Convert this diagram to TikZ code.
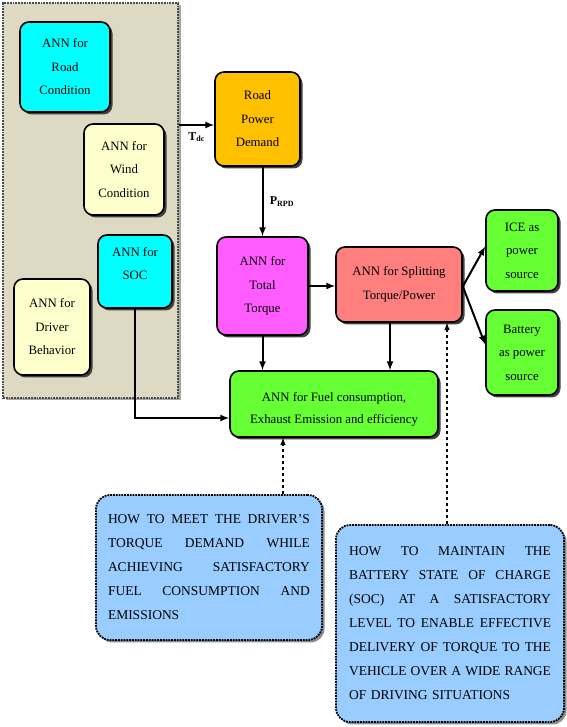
\documentclass[tikz,border=0pt]{standalone}
\usepackage{fontspec}
\setmainfont{Liberation Serif}
\usetikzlibrary{shapes,arrows,positioning,calc,shadows}

\definecolor{panelgray}{HTML}{DDD9C3}
\definecolor{anncyan}{HTML}{00FFFF}
\definecolor{annyellow}{HTML}{FFFFCC}
\definecolor{annorange}{HTML}{FFC000}
\definecolor{annpink}{HTML}{FF5CFF}
\definecolor{annsalmon}{HTML}{FF7F7F}
\definecolor{anngreen}{HTML}{66FF33}
\definecolor{noteblue}{HTML}{99CCFF}

% justified line of a question box
\newcommand{\fullline}[1]{\hbox to 202pt{\spaceskip=3pt plus 1fil\relax #1}}

\begin{document}
\begin{tikzpicture}[
    x=1pt, y=1pt,
    annbox/.style={rectangle, rounded corners=9pt, draw, line width=1.6pt, align=center,
        inner sep=2pt, font=\fontsize{12.8}{23.5}\selectfont,
        drop shadow={shadow xshift=2.5pt, shadow yshift=-2.5pt, fill=black!75, opacity=1}},
    cyanbox/.style={annbox, fill=anncyan},
    yellowbox/.style={annbox, fill=annyellow},
    greenbox/.style={annbox, fill=anngreen},
    notebox/.style={rectangle, rounded corners=14pt, draw, densely dotted, line width=1.8pt,
        fill=noteblue, text width=202pt, inner sep=0pt, align=left,
        font=\fontsize{13.5}{24}\selectfont,
        drop shadow={shadow xshift=2.5pt, shadow yshift=-2.5pt, fill=black!45, opacity=1}},
    arr/.style={-latex, line width=2pt},
    hintarr/.style={-latex, line width=1.5pt, dashed},
    flowlabel/.style={font=\fontsize{12}{14}\selectfont}
]
    \useasboundingbox (0,0) rectangle (566,727);

    % Input panel
    \node[rectangle, draw=black!70, densely dotted, line width=1.8pt, fill=panelgray,
          minimum width=175pt, minimum height=395pt,
          drop shadow={shadow xshift=2.5pt, shadow yshift=-2.5pt, fill=black!35, opacity=1}]
          (panel) at (90.5,526.5) {};

    % Input networks
    \node[cyanbox, minimum width=90pt, minimum height=90pt] (roadann) at (65,660) {ANN for\\Road\\Condition};
    \node[yellowbox, minimum width=80pt, minimum height=91pt] (windann) at (124,557.5) {ANN for\\Wind\\Condition};
    \node[cyanbox, minimum width=74pt, minimum height=73pt, text depth=16pt] (socann) at (135,455.5) {ANN for\\SOC};
    \node[yellowbox, minimum width=76pt, minimum height=96pt] (driverann) at (52,400) {ANN for\\Driver\\Behavior};

    % Main chain
    \node[annbox, fill=annorange, minimum width=85pt, minimum height=94pt] (rpd) at (257.5,608) {Road\\Power\\Demand};
    \node[annbox, fill=annpink, minimum width=91pt, minimum height=98pt] (totalann) at (262.5,441) {ANN for\\Total\\Torque};
    \node[annbox, fill=annsalmon, minimum width=126pt, minimum height=75pt] (splitann) at (399,442.5) {ANN for Splitting\\Torque/Power};
    \node[greenbox, minimum width=72pt, minimum height=81pt] (ice) at (522,476.5) {ICE as\\power\\source};
    \node[greenbox, minimum width=72pt, minimum height=85pt] (battery) at (522,374.5) {Battery\\as power\\source};
    \node[greenbox, minimum width=208pt, minimum height=66pt, font=\fontsize{12.8}{22}\selectfont, text height=41pt] (fuelann) at (334,323)
        {ANN for Fuel consumption,\\Exhaust Emission and efficiency};

    % Questions
    \node[notebox, minimum width=226pt, minimum height=145pt] (torqueq) at (209,159.5) {%
        \fullline{HOW TO MEET THE DRIVER'S}
        \fullline{TORQUE DEMAND WHILE}
        \fullline{ACHIEVING SATISFACTORY}
        \fullline{FUEL CONSUMPTION AND}
        EMISSIONS};
    \node[notebox, minimum width=228pt, minimum height=197pt] (socq) at (450,103.5) {%
        \fullline{HOW TO MAINTAIN THE}
        \fullline{BATTERY STATE OF CHARGE}
        \fullline{(SOC) AT A SATISFACTORY}
        \fullline{LEVEL TO ENABLE EFFECTIVE}
        \fullline{DELIVERY OF TORQUE TO THE}
        \fullline{VEHICLE OVER A WIDE RANGE}
        OF DRIVING SITUATIONS};

    % Connections
    \draw[arr] (panel.east |- 0,602) -- node[flowlabel, below=3pt] {$\mathbf{T_{dc}}$} (rpd.west |- 0,602);
    \draw[arr] (totalann.north |- rpd.south) -- node[flowlabel, right=3pt] {$\mathbf{P_{RPD}}$} (totalann.north);
    \draw[arr] (totalann.east) -- (totalann.east -| splitann.west);
    \draw[arr] ([yshift=-2pt]splitann.east) -- ([yshift=4pt]ice.west);
    \draw[arr] ([yshift=-2pt]splitann.east) -- ([yshift=8pt]battery.west);
    \draw[arr] (totalann.south) -- (totalann.south |- fuelann.north);
    \draw[arr] ([xshift=-9pt]splitann.south) -- ([xshift=-9pt]splitann.south |- fuelann.north);
    \draw[arr] (socann.south) |- ([yshift=-14pt]fuelann.west);
    \draw[hintarr] ([xshift=74pt]torqueq.north) -- ([xshift=74pt]torqueq.north |- fuelann.south);
    \draw[hintarr] ([xshift=-3pt]socq.north) -- ([xshift=-3pt]socq.north |- splitann.south);
\end{tikzpicture}
\end{document}
